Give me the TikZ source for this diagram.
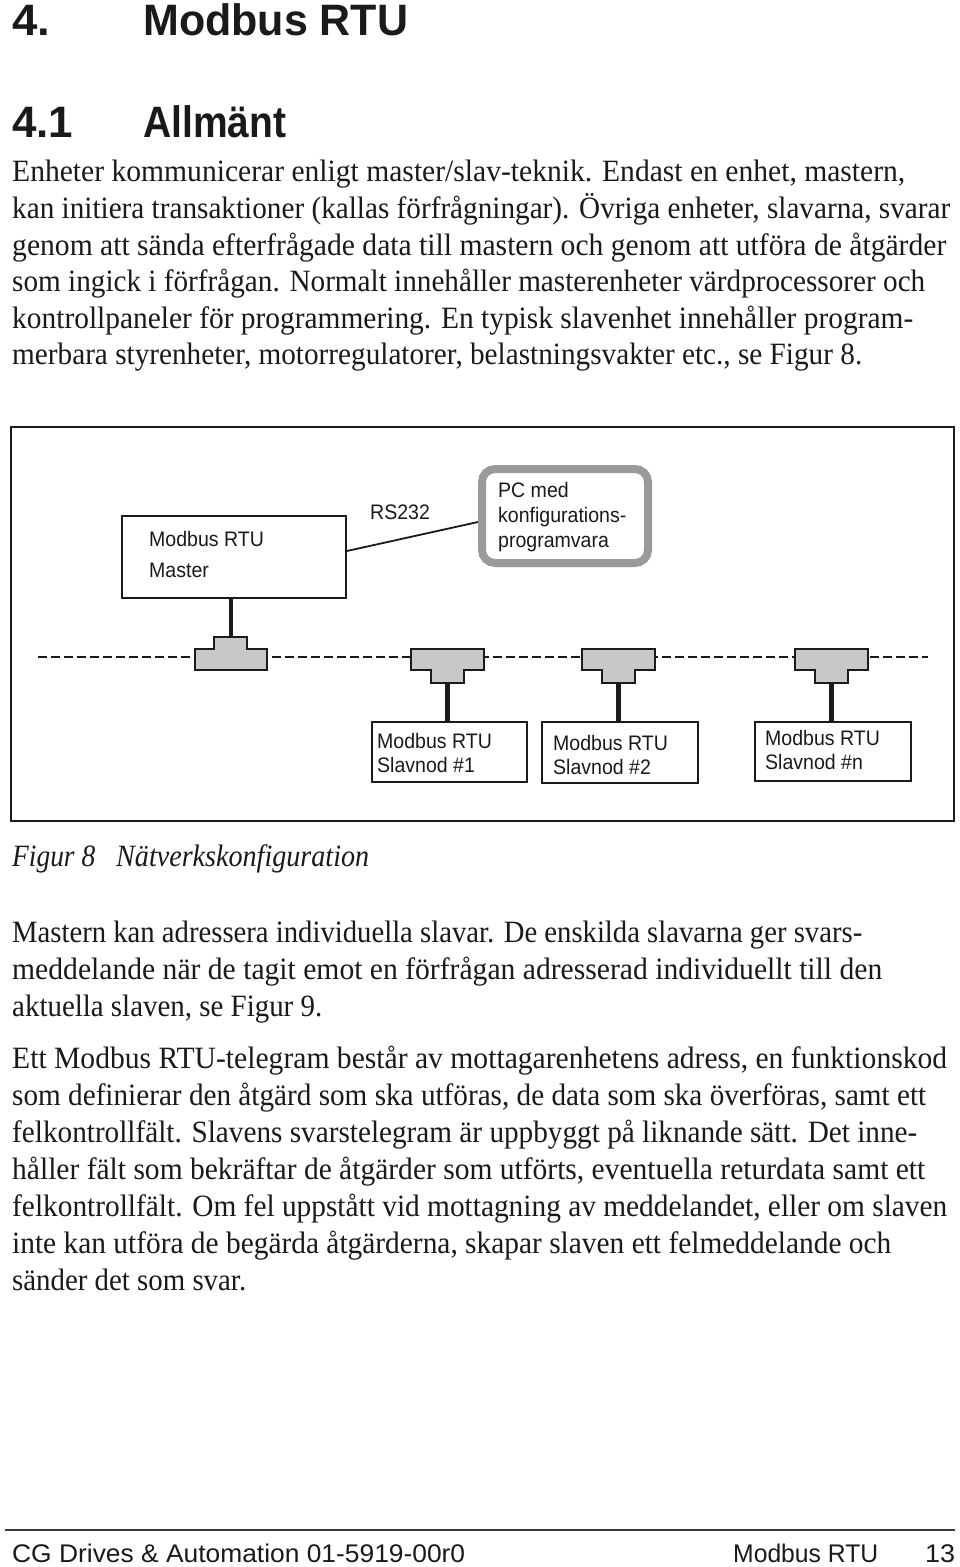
\documentclass[tikz,border=0pt]{standalone}
\usepackage{fontspec}
\usepackage{graphicx}
\setmainfont{Liberation Serif}
\newfontfamily\sansf{Liberation Sans}
\newcommand{\fitto}[2]{\resizebox{#1}{\height}{#2}}
\newcommand{\cond}[1]{\scalebox{0.93}[1]{#1}}
\definecolor{tgray}{HTML}{C8C8C8}
\definecolor{pcgray}{HTML}{9A9A9A}
\definecolor{ink}{HTML}{1A1A1A}
\begin{document}
\begin{tikzpicture}[x=1pt,y=-1pt,
  txt/.style={anchor=base west, inner sep=0pt, text=ink},
  body/.style={txt, font=\fontsize{31}{35}\selectfont},
  capt/.style={txt, font=\itshape\fontsize{31}{35}\selectfont},
  head/.style={txt, font=\sansf\bfseries\fontsize{44}{46}\selectfont},
  dlabel/.style={txt, font=\sansf\fontsize{21}{24}\selectfont},
  foot/.style={txt, font=\sansf\fontsize{25.5}{28}\selectfont},
  boxst/.style={draw=ink, line width=1.8pt, inner sep=0pt, fill=white},
  tconn/.style={draw=ink, fill=tgray, line width=1.4pt},
  stem/.style={line width=4.5pt, draw=ink},
  bus/.style={draw=ink, line width=2pt, dash pattern=on 9pt off 4pt}
]
\fill[white] (0,0) rectangle (960,1567);
\useasboundingbox (0,0) rectangle (960,1567);

% headings
\node[head] (h1n) at (12,35) {\fitto{38pt}{4.}};
\node[head] (h1t) at (143,35) {\fitto{265pt}{Modbus RTU}};
\node[head] (h2n) at (12,137) {\fitto{61pt}{4.1}};
\node[head] (h2t) at (143,137) {\fitto{143pt}{Allmänt}};

% paragraph 1
\node[body] (p1a) at (12,181) {\fitto{893pt}{Enheter kommunicerar enligt master/slav-teknik. Endast en enhet, mastern,}};
\node[body] (p1b) at (12,218) {\fitto{938pt}{kan initiera transaktioner (kallas förfrågningar). Övriga enheter, slavarna, svarar}};
\node[body] (p1c) at (12,255) {\fitto{934pt}{genom att sända efterfrågade data till mastern och genom att utföra de åtgärder}};
\node[body] (p1d) at (12,291) {\fitto{913pt}{som ingick i förfrågan. Normalt innehåller masterenheter värdprocessorer och}};
\node[body] (p1e) at (12,328) {\fitto{901pt}{kontrollpaneler för programmering. En typisk slavenhet innehåller program-}};
\node[body] (p1f) at (12,364) {\fitto{850pt}{merbara styrenheter, motorregulatorer, belastningsvakter etc., se Figur 8.}};

% figure frame
\draw[draw=ink, line width=2pt] (11,427) rectangle (954,821);

% bus
\coordinate (busL) at (38,657);
\coordinate (busR) at (928,657);
\draw[bus] (busL) -- (busR);

% master
\node[boxst, minimum width=224pt, minimum height=82pt] (master) at (234,557) {};
\node[dlabel] (mt1) at (149,546) {\cond{Modbus RTU}};
\node[dlabel] (mt2) at (149,577) {\cond{Master}};

% PC
\node[draw=pcgray, line width=8pt, rounded corners=13pt, fill=white, inner sep=0pt,
      minimum width=166pt, minimum height=94pt] (pc) at (565,516) {};
\node[dlabel] (pt1) at (498,497) {\cond{PC med}};
\node[dlabel] (pt2) at (498,522) {\cond{konfigurations-}};
\node[dlabel] (pt3) at (498,547) {\cond{programvara}};

\draw[draw=ink, line width=1.8pt] ([yshift=6pt]master.east) -- ([yshift=-6pt]pc.west);
\node[dlabel] (rs) at (370,519) {\cond{RS232}};

% master T connector
\coordinate (mT) at (231,637);
\draw[stem] (master.south -| mT) -- (mT);
\draw[tconn] (195,649) -- (214,649) -- (214,637) -- (247,637) -- (247,649) -- (267,649)
  -- (267,670) -- (195,670) -- cycle;

% slave boxes
\node[boxst, minimum width=155pt, minimum height=60pt] (s1) at (449.5,752) {};
\node[boxst, minimum width=156pt, minimum height=61pt] (s2) at (620,752.5) {};
\node[boxst, minimum width=156pt, minimum height=59pt] (sn) at (833,751.5) {};
\node[dlabel] (s1a) at (377,748) {\cond{Modbus RTU}};
\node[dlabel] (s1b) at (377,772) {\cond{Slavnod \#1}};
\node[dlabel] (s2a) at (553,750) {\cond{Modbus RTU}};
\node[dlabel] (s2b) at (553,774) {\cond{Slavnod \#2}};
\node[dlabel] (sna) at (765,745) {\cond{Modbus RTU}};
\node[dlabel] (snb) at (765,769) {\cond{Slavnod \#n}};

% slave T connectors
\foreach \L/\s in {411/s1, 582/s2, 795/sn}{
  \coordinate (T\s) at (\L+36.5,683);
  \draw[stem] (T\s) -- (T\s |- \s.north);
  \draw[tconn] (\L,649) -- (\L+73,649) -- (\L+73,670) -- (\L+53,670) -- (\L+53,683)
    -- (\L+20,683) -- (\L+20,670) -- (\L,670) -- cycle;
}

% caption
\node[capt] (cap1) at (12,866) {\fitto{83pt}{Figur 8}};
\node[capt] (cap2) at (116,866) {\fitto{253pt}{Nätverkskonfiguration}};

% paragraph 2
\node[body] (p2a) at (12,942) {\fitto{850pt}{Mastern kan adressera individuella slavar. De enskilda slavarna ger svars-}};
\node[body] (p2b) at (12,979) {\fitto{870pt}{meddelande när de tagit emot en förfrågan adresserad individuellt till den}};
\node[body] (p2c) at (12,1016) {\fitto{310pt}{aktuella slaven, se Figur 9.}};

% paragraph 3
\node[body] (p3a) at (12,1068) {\fitto{935pt}{Ett Modbus RTU-telegram består av mottagarenhetens adress, en funktionskod}};
\node[body] (p3b) at (12,1105) {\fitto{914pt}{som definierar den åtgärd som ska utföras, de data som ska överföras, samt ett}};
\node[body] (p3c) at (12,1142) {\fitto{905pt}{felkontrollfält. Slavens svarstelegram är uppbyggt på liknande sätt. Det inne-}};
\node[body] (p3d) at (12,1179) {\fitto{913pt}{håller fält som bekräftar de åtgärder som utförts, eventuella returdata samt ett}};
\node[body] (p3e) at (12,1216) {\fitto{935pt}{felkontrollfält. Om fel uppstått vid mottagning av meddelandet, eller om slaven}};
\node[body] (p3f) at (12,1253) {\fitto{879pt}{inte kan utföra de begärda åtgärderna, skapar slaven ett felmeddelande och}};
\node[body] (p3g) at (12,1290) {\fitto{234pt}{sänder det som svar.}};

% footer
\coordinate (fl) at (5,1530);
\coordinate (fr) at (955,1530);
\draw[draw=ink!85, line width=2.5pt] (fl) -- (fr);
\node[foot] (f1) at (12,1562) {\fitto{453pt}{CG Drives \& Automation 01-5919-00r0}};
\node[foot] (f2) at (733,1562) {\fitto{145pt}{Modbus RTU}};
\node[foot] (f3) at (925,1562) {\fitto{30pt}{13}};
\end{tikzpicture}
\end{document}
